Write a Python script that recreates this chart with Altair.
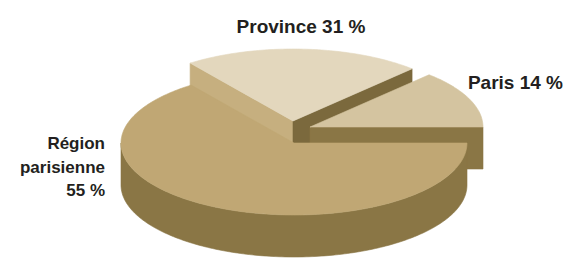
import altair as alt
import numpy as np
import pandas as pd

# ---- data ----
regions = ["Paris", "Province", "Région parisienne"]
shares = [14, 31, 55]                 # labelled percentages
drawn_deg = [46.5, 80.0, 233.5]       # slice sweeps as drawn in the picture (degrees)
label_text = ["Paris 14 %", "Province 31 %", "Région\nparisienne\n55 %"]

# ---- styles / layout ----
top_colors = {"Paris": "#d4c4a0", "Province": "#e3d7bd", "Région parisienne": "#c0a774"}
side_color = "#8a7645"
prov_right_face = "#7b693d"
prov_left_face = "#c6af7f"
text_color = "#231f20"

CX, CY, RX, RY, DEPTH = 294, 143, 173, 72, 42
offsets = {"Paris": (16, -16), "Province": (-1, -22), "Région parisienne": (0, 0)}

starts = np.concatenate([[0], np.cumsum(drawn_deg)[:-1]])
ends = np.cumsum(drawn_deg)
span = {r: (s, e) for r, s, e in zip(regions, starts, ends)}


def pt(a_deg, region, dz=0.0):
    ox, oy = offsets[region]
    a = np.radians(a_deg)
    return (CX + ox + RX * np.cos(a), CY + oy - RY * np.sin(a) + dz)


def apex(region, dz=0.0):
    ox, oy = offsets[region]
    return (CX + ox, CY + oy + dz)


def arc(region, a0, a1, dz=0.0):
    n = max(int(abs(a1 - a0)), 2)
    return [pt(a, region, dz) for a in np.linspace(a0, a1, n + 1)]


pieces = []
# Province radial faces (back slice)
s, e = span["Province"]
pieces.append(("prov_left", prov_left_face,
               [apex("Province"), pt(e, "Province"), pt(e, "Province", DEPTH), apex("Province", DEPTH)]))
pieces.append(("prov_right", prov_right_face,
               [apex("Province"), pt(s, "Province"), pt(s, "Province", DEPTH), apex("Province", DEPTH)]))
pieces.append(("prov_top", top_colors["Province"], [apex("Province")] + arc("Province", s, e)))
# Paris
s, e = span["Paris"]
pieces.append(("paris_front", side_color,
               [apex("Paris"), pt(s, "Paris"), pt(s, "Paris", DEPTH), apex("Paris", DEPTH)]))
pieces.append(("paris_top", top_colors["Paris"], [apex("Paris")] + arc("Paris", s, e)))
# Région parisienne (front slice)
s, e = span["Région parisienne"]
vis0 = max(s, 180.0)
pieces.append(("main_side", side_color,
               arc("Région parisienne", vis0, e) + arc("Région parisienne", e, vis0, DEPTH)))
pieces.append(("main_top", top_colors["Région parisienne"],
               [apex("Région parisienne")] + arc("Région parisienne", s, e)))

rows = []
for name, col, pts in pieces:
    for i, (x, y) in enumerate(pts + [pts[0]]):
        rows.append({"piece": name, "i": i, "x": x, "y": y})
df = pd.DataFrame(rows)

W, H = 558, 251
xs = alt.Scale(domain=[8, 8 + W], nice=False, zero=False)
ys = alt.Scale(domain=[8, 8 + H], nice=False, zero=False, reverse=True)

layers = []
for name, col, _ in pieces:
    layers.append(
        alt.Chart(df)
        .transform_filter(alt.datum.piece == name)
        .mark_line(fill=col, stroke=col, strokeWidth=0.6, clip=False)
        .encode(
            x=alt.X("x:Q", scale=xs, axis=None),
            y=alt.Y("y:Q", scale=ys, axis=None),
            order="i:Q",
        )
    )

labels = pd.DataFrame({
    "region": regions,
    "share": shares,
    "text": label_text,
    "x": [563, 301, 105],
    "y": [89, 33, 149],
})
font = "Liberation Sans"
for region, align, size in [("Paris", "right", 19), ("Province", "center", 19),
                            ("Région parisienne", "right", 17)]:
    layers.append(
        alt.Chart(labels)
        .transform_filter(alt.datum.region == region)
        .mark_text(font=font, fontWeight="bold", fontSize=size, color=text_color,
                   align=align, baseline="alphabetic", lineBreak="\n", lineHeight=23.5)
        .encode(
            x=alt.X("x:Q", scale=xs, axis=None),
            y=alt.Y("y:Q", scale=ys, axis=None),
            text="text:N",
        )
    )

chart = (
    alt.layer(*layers)
    .properties(width=W, height=H, padding=0, autosize=alt.AutoSizeParams(type="none"))
    .configure_view(stroke=None)
)

chart.save("out.html", embed_options={"renderer": "svg", "actions": False})
